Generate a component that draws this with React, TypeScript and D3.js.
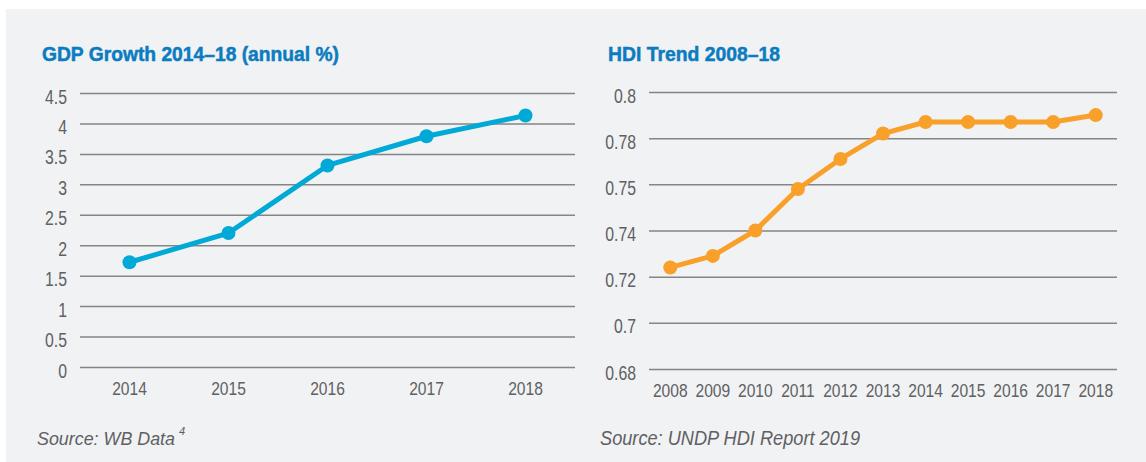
import React, { useRef, useEffect } from "react";
import * as d3 from "d3";

// GDP growth (annual %)
const gdpYears = ["2014", "2015", "2016", "2017", "2018"];
const gdpValues = [1.72, 2.2, 3.31, 3.79, 4.13];
const gdpTicks = [0, 0.5, 1, 1.5, 2, 2.5, 3, 3.5, 4, 4.5];
const gdpTickLabels = ["0", "0.5", "1", "1.5", "2", "2.5", "3", "3.5", "4", "4.5"];

// HDI trend
const hdiYears = ["2008", "2009", "2010", "2011", "2012", "2013", "2014", "2015", "2016", "2017", "2018"];
const hdiValues = [0.724, 0.729, 0.74, 0.758, 0.771, 0.782, 0.787, 0.787, 0.787, 0.787, 0.79];
const hdiTicks = [0.68, 0.7, 0.72, 0.74, 0.76, 0.78, 0.8];
const hdiTickLabels = ["0.68", "0.7", "0.72", "0.74", "0.75", "0.78", "0.8"];

const W = 1146;
const H = 462;
const FONT = "'Liberation Sans', Arial, sans-serif";
const GRID = "#858585";
const TEXT = "#5f6062";
const TITLE = "#0b7cbf";
const SQUEEZE = 0.79; // mimic the condensed face of the original

type Panel = {
  title: string;
  titleWidth: number;
  source: string;
  sourceSize: number;
  sourceWidth: number;
  sup?: string;
  years: string[];
  values: number[];
  ticks: number[];
  tickLabels: string[];
  x0: number;
  x1: number;
  y0: number;
  y1: number;
  titleX: number;
  sourceX: number;
  color: string;
};

const panels: Panel[] = [
  {
    title: "GDP Growth 2014–18 (annual %)",
    titleWidth: 297,
    source: "Source: WB Data",
    sourceSize: 18,
    sourceWidth: 138,
    sup: "4",
    years: gdpYears,
    values: gdpValues,
    ticks: gdpTicks,
    tickLabels: gdpTickLabels,
    x0: 80,
    x1: 575,
    y0: 367,
    y1: 93,
    titleX: 42,
    sourceX: 37,
    color: "#00a9d6",
  },
  {
    title: "HDI Trend 2008–18",
    titleWidth: 172,
    source: "Source: UNDP HDI Report 2019",
    sourceSize: 20,
    sourceWidth: 260,
    years: hdiYears,
    values: hdiValues,
    ticks: hdiTicks,
    tickLabels: hdiTickLabels,
    x0: 649,
    x1: 1117,
    y0: 369,
    y1: 92,
    titleX: 608,
    sourceX: 600,
    color: "#f8a02a",
  },
];

// narrow every text in the selection by a fixed factor
function squeeze(sel: d3.Selection<any, any, any, any>, f = SQUEEZE) {
  sel.each(function () {
    const el = this as SVGTextElement;
    const len = el.getComputedTextLength();
    if (len > 0) {
      el.setAttribute("textLength", String(len * f));
      el.setAttribute("lengthAdjust", "spacingAndGlyphs");
    }
  });
}

export default function App() {
  const svgRef = useRef<SVGSVGElement>(null);

  useEffect(() => {
    const svg = d3.select(svgRef.current);
    svg.selectAll("*").remove();

    svg.append("rect").attr("width", W).attr("height", H).attr("fill", "#fff");
    svg
      .append("rect")
      .attr("x", 6)
      .attr("y", 9)
      .attr("width", W - 6)
      .attr("height", H - 9)
      .attr("fill", "#f1f2f4");

    panels.forEach((p) => {
      const g = svg.append("g").attr("font-family", FONT);

      const x = d3.scaleBand().domain(p.years).range([p.x0, p.x1]).padding(0);
      const y = d3
        .scaleLinear()
        .domain([p.ticks[0], p.ticks[p.ticks.length - 1]])
        .range([p.y0, p.y1]);

      // title
      g.append("text")
        .attr("x", p.titleX)
        .attr("y", 61)
        .attr("fill", TITLE)
        .attr("stroke", TITLE)
        .attr("stroke-width", 0.5)
        .attr("font-weight", "bold")
        .attr("font-size", 20)
        .attr("textLength", p.titleWidth)
        .attr("lengthAdjust", "spacingAndGlyphs")
        .text(p.title);

      // y axis with gridlines
      const yAxis = d3
        .axisLeft(y)
        .tickValues(p.ticks)
        .tickSize(-(p.x1 - p.x0))
        .tickPadding(0)
        .tickFormat((_d, i) => p.tickLabels[i]);

      g.append("g")
        .attr("transform", `translate(${p.x0},0)`)
        .call(yAxis)
        .call((s) => s.select(".domain").remove())
        .call((s) =>
          s.selectAll(".tick line").attr("stroke", GRID).attr("stroke-width", 1.5)
        )
        .call((s) =>
          s
            .selectAll(".tick text")
            .attr("x", -13)
            .attr("fill", TEXT)
            .attr("font-size", 20)
            .attr("font-family", FONT)
            .attr("dy", "0.5em")
        )
        .call((s) => squeeze(s.selectAll(".tick text")));

      // x axis labels
      const xAxis = d3.axisBottom(x).tickSize(0).tickPadding(0);
      g.append("g")
        .attr("transform", `translate(0,${p.y0})`)
        .call(xAxis)
        .call((s) => s.select(".domain").remove())
        .call((s) =>
          s
            .selectAll(".tick text")
            .attr("fill", TEXT)
            .attr("font-size", 19)
            .attr("font-family", FONT)
            .attr("dy", null)
            .attr("y", 28)
        )
        .call((s) => squeeze(s.selectAll(".tick text"), 0.82));

      const cx = (d: string) => (x(d) || 0) + x.bandwidth() / 2;
      const pts = p.years.map((d, i) => ({ year: d, value: p.values[i] }));

      const line = d3
        .line<{ year: string; value: number }>()
        .x((d) => cx(d.year))
        .y((d) => y(d.value));

      g.append("path")
        .datum(pts)
        .attr("d", line)
        .attr("fill", "none")
        .attr("stroke", p.color)
        .attr("stroke-width", 5)
        .attr("stroke-linejoin", "round");

      g.selectAll("circle.pt")
        .data(pts)
        .join("circle")
        .attr("class", "pt")
        .attr("cx", (d) => cx(d.year))
        .attr("cy", (d) => y(d.value))
        .attr("r", 7)
        .attr("fill", p.color);

      // source note
      g.append("text")
        .attr("x", p.sourceX)
        .attr("y", 445)
        .attr("fill", TEXT)
        .attr("font-style", "italic")
        .attr("font-size", p.sourceSize)
        .attr("textLength", p.sourceWidth)
        .attr("lengthAdjust", "spacingAndGlyphs")
        .text(p.source);
      if (p.sup) {
        g.append("text")
          .attr("x", p.sourceX + p.sourceWidth + 4)
          .attr("y", 435)
          .attr("fill", TEXT)
          .attr("font-style", "italic")
          .attr("font-size", 11)
          .text(p.sup);
      }
    });
  }, []);

  return (
    <svg
      ref={svgRef}
      width={W}
      height={H}
      style={{ position: "absolute", left: 0, top: 0, display: "block" }}
    />
  );
}
